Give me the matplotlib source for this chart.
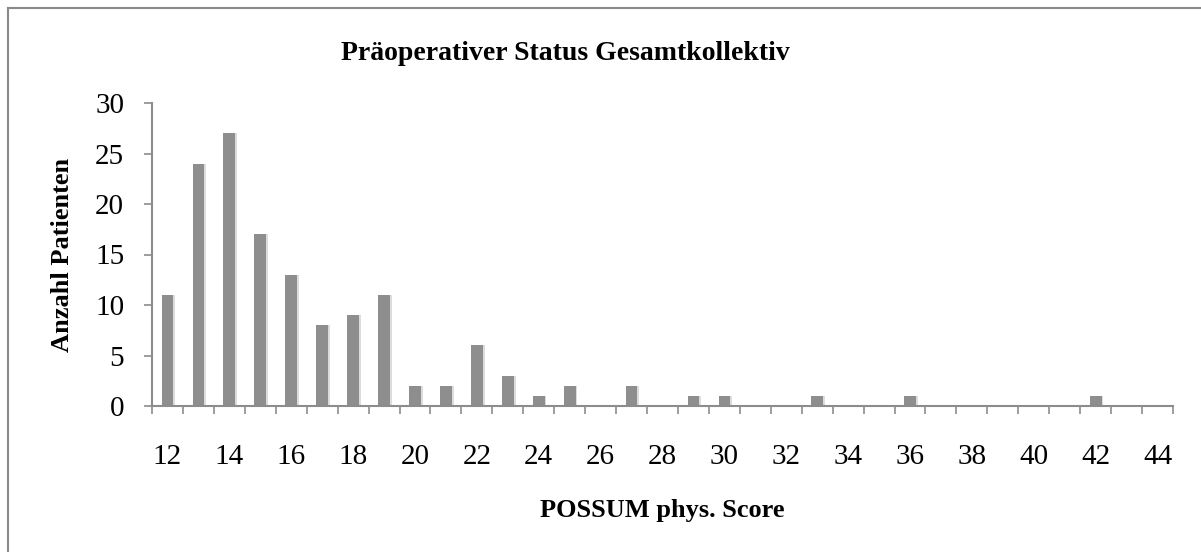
import matplotlib
matplotlib.use("Agg")
import matplotlib.pyplot as plt
from matplotlib.lines import Line2D

scores = list(range(12, 45))
counts = [11, 24, 27, 17, 13, 8, 9, 11, 2, 2, 6, 3, 1, 2, 0, 2, 0, 1, 1, 0, 0,
          1, 0, 0, 1, 0, 0, 0, 0, 0, 1, 0, 0]
yticks = [0, 5, 10, 15, 20, 25, 30]

title = "Präoperativer Status Gesamtkollektiv"
xlabel = "POSSUM phys. Score"
ylabel = "Anzahl Patienten"

plt.rcParams["font.family"] = ["Liberation Serif", "DejaVu Serif"]

AXIS_GRAY = "#8c8c8c"
BAR_GRAY = "#8e8e8e"

fig = plt.figure(figsize=(12.01, 5.52), dpi=100)
ax = fig.add_axes([152 / 1201, 1 - 406 / 552, 1021 / 1201, 303 / 552])

pos = list(range(len(scores)))
# soft shadow a la Excel
ax.bar([p + 0.05 for p in pos], counts, width=0.4, color="#dcdcdc", zorder=1)
ax.bar(pos, counts, width=0.38, color=BAR_GRAY, zorder=2)

ax.set_xlim(-0.5, len(scores) - 0.5)
ax.set_ylim(0, 30)

# labels every second category, ticks on the category borders
ax.set_xticks([p for p in pos if scores[p] % 2 == 0])
ax.set_xticklabels([str(s) for s in scores if s % 2 == 0])
ax.set_xticks([p - 0.5 for p in pos] + [len(scores) - 0.5], minor=True)
ax.tick_params(axis="x", which="major", length=0, pad=27, labelsize=21)
ax.tick_params(axis="x", which="minor", length=6, width=1.2, color=AXIS_GRAY,
               direction="out")

ax.set_yticks(yticks)
ax.tick_params(axis="y", length=6, width=1.2, color=AXIS_GRAY, pad=14,
               labelsize=21)

for side in ("top", "right"):
    ax.spines[side].set_visible(False)
for side in ("left", "bottom"):
    ax.spines[side].set_color(AXIS_GRAY)
    ax.spines[side].set_linewidth(1.5)
    ax.spines[side].set_zorder(3)

ax.set_xlabel(xlabel, fontsize=19, fontweight="bold", labelpad=21)
ax.set_ylabel(ylabel, fontsize=19, fontweight="bold", labelpad=15)

fig.text(565 / 1201, 1 - 54 / 552, title, ha="center", va="center",
         fontsize=20, fontweight="bold")

# outer chart frame (only left/top visible in crop)
fig.add_artist(Line2D([7.5 / 1201, 7.5 / 1201], [0, 1 - 7.5 / 552],
                      transform=fig.transFigure, color="#8a8a8a", lw=1.5))
fig.add_artist(Line2D([7.5 / 1201, 1], [1 - 7.5 / 552, 1 - 7.5 / 552],
                      transform=fig.transFigure, color="#8a8a8a", lw=1.5))

fig.savefig("out.png", dpi=100)
